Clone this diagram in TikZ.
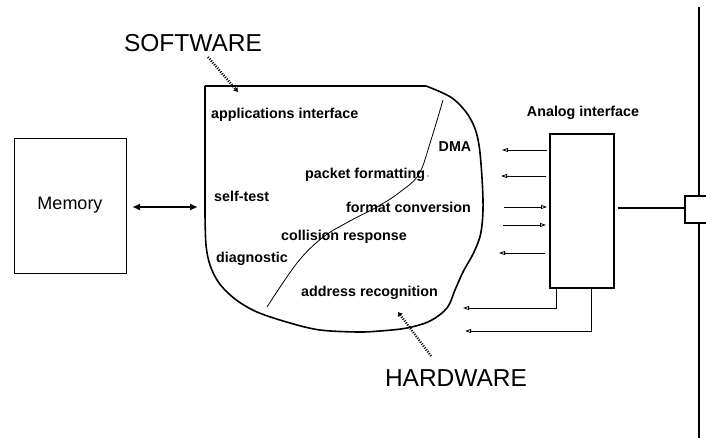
\documentclass[tikz,border=0pt]{standalone}
\usepackage{fontspec}
\setmainfont{Liberation Sans}
\usetikzlibrary{arrows.meta}
\begin{document}
\begin{tikzpicture}[x=1pt,y=-1pt,
  lbl/.style={font=\bfseries\fontsize{14.3}{16}\selectfont, inner sep=0pt, anchor=west},
  bigtext/.style={font=\fontsize{24.5}{28}\selectfont, inner sep=0pt},
  sig/.style={line width=0.8pt, -{Triangle[open,length=6pt,width=4pt]}},
  pointer/.style={line width=2.4pt, dash pattern=on 1pt off 1.4pt, -{Latex[length=4pt,width=6pt]}},
]
\useasboundingbox (0,0) rectangle (706,438);

% Memory
\node[draw, line width=0.7pt, minimum width=112pt, minimum height=135pt, inner sep=0pt]
  (mem) at (70,205.5) {\fontsize{18}{20}\selectfont Memory};
\coordinate (memR) at (132,207);
\coordinate (blobL) at (198,207);
\draw[line width=2pt, {Latex[length=8pt,width=7pt]}-{Latex[length=8pt,width=7pt]}] (memR) -- (blobL);

% Blob
\draw[line width=1.6pt] (205,86) -- (426,86);
\draw[line width=1.6pt] plot[smooth, tension=0.55] coordinates {
  (426,86) (452,98) (470,118) (479,145) (483,200) (481,232) (474,252) (463,272)
  (455,290) (447,308) (430,321) (407,328) (380,331) (357,332) (320,330) (290,323)
  (257,312) (235,299) (219,283) (210,265) (206,245) (205,215)} -- (205,86);

% dividing line
\draw[line width=0.8pt] plot[smooth, tension=0.6] coordinates {
  (443,100) (431,140) (419,174) (400,192) (377,207) (348,222) (322,238) (297,263) (267,307)};

% labels
\node[lbl] (ai) at (211,115) {applications interface};
\node[lbl, anchor=center] (dma) at (455,147) {DMA};
\node[lbl] (pf) at (305,175) {packet formatting};
\fill (428,176) circle (0.6pt);
\node[lbl] (st) at (214,196) {self-test};
\node[lbl] (fc) at (346,207) {format conversion};
\node[lbl] (cr) at (281,237) {collision response};
\node[lbl] (dg) at (216,259) {diagnostic};
\node[lbl] (ar) at (301,293) {address recognition};

% SOFTWARE / HARDWARE
\node[bigtext] (sw) at (193,43) {SOFTWARE};
\coordinate (swA) at (208,57);
\coordinate (swB) at (238,92);
\draw[pointer] (swA) -- (swB);
\node[bigtext] (hw) at (456,378) {HARDWARE};
\coordinate (hwA) at (431,356);
\coordinate (hwB) at (398,312);
\draw[pointer] (hwA) -- (hwB);

% Analog interface
\node[lbl, anchor=center] (alabel) at (583,113) {Analog interface};
\node[draw, line width=1.3pt, minimum width=64pt, minimum height=154pt, inner sep=0pt] (ana) at (582,211) {};

\draw[sig] (547,150) -- (502,150);
\draw[sig] (546,176) -- (501,176);
\draw[sig] (504,207) -- (547,207);
\draw[sig] (503,225) -- (546,225);
\draw[sig] (545,253) -- (499,253);
\draw[sig] (ana.south west -| 556,0) -- (556,308) -- (463,308);
\draw[sig] (ana.south west -| 591,0) -- (591,331) -- (465,331);

% bus
\draw[line width=2.2pt] (699,7) -- (699,438);
\coordinate (tapL) at (685,208);
\draw[line width=1.5pt] (ana.east) ++(3,-3) -- (tapL);
\fill[white] (685,196) rectangle (706,223);
\draw[line width=1.5pt] (706,196) -- (685,196) -- (685,223) -- (706,223);
\end{tikzpicture}
\end{document}
